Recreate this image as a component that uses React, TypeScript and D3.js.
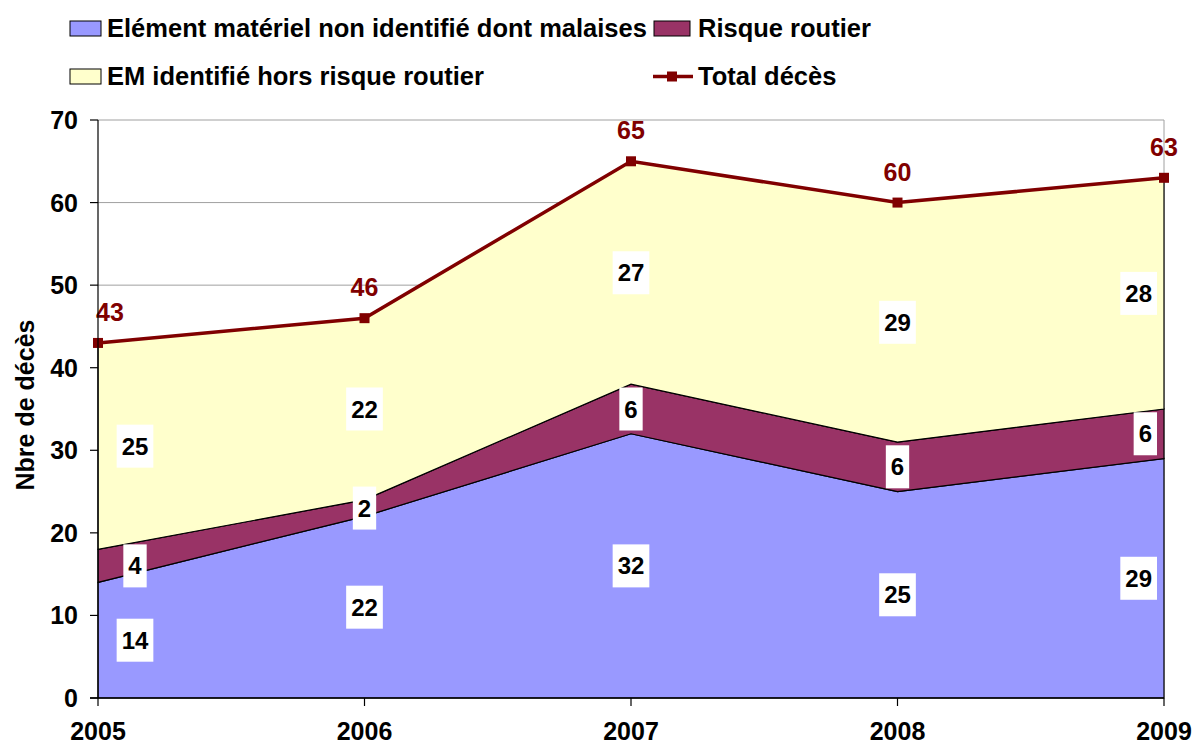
import React from "react";
import * as d3 from "d3";

const years = ["2005", "2006", "2007", "2008", "2009"];
const emNonIdentifie = [14, 22, 32, 25, 29];
const risqueRoutier = [4, 2, 6, 6, 6];
const emIdentifie = [25, 22, 27, 29, 28];
const totalDeces = [43, 46, 65, 60, 63];
const yTicks = [0, 10, 20, 30, 40, 50, 60, 70];

const seriesNames = [
  "Elément matériel non identifié dont malaises",
  "Risque routier",
  "EM identifié hors risque routier",
];
const totalName = "Total décès";
const colors = ["#9999FF", "#993366", "#FFFFCC"];
const lineColor = "#800000";

const W = 1194;
const H = 745;
const left = 98;
const right = 1164;
const top = 120;
const bottom = 698;
const FONT = "'Liberation Sans', Arial, sans-serif";

export default function App() {
  const x = d3.scalePoint<string>().domain(years).range([left, right]);
  const y = d3.scaleLinear().domain([0, 70]).range([bottom, top]);

  const rows = years.map((yr, i) => ({
    year: yr,
    a: emNonIdentifie[i],
    b: risqueRoutier[i],
    c: emIdentifie[i],
  }));
  const keys = ["a", "b", "c"];
  const stacked = d3.stack<any>().keys(keys)(rows);

  const area = d3
    .area<any>()
    .x((d) => x(d.data.year) as number)
    .y0((d) => y(d[0]))
    .y1((d) => y(d[1]));

  const line = d3
    .line<number>()
    .x((_, i) => x(years[i]) as number)
    .y((d) => y(d));

  const labels: { cx: number; cy: number; text: string; align: string }[] = [];
  stacked.forEach((s) => {
    s.forEach((d: any, i: number) => {
      const px = x(years[i]) as number;
      const mid = y((d[0] + d[1]) / 2);
      const v = d[1] - d[0];
      let align = "center";
      let cx = px;
      if (i === 0) cx = px + 37;
      if (i === years.length - 1) {
        align = "right";
        cx = px - 7;
      }
      labels.push({ cx, cy: mid, text: String(v), align });
    });
  });

  const labelFs = 24;
  const charW = 0.556 * labelFs;
  const legFs = 25.5;

  return (
    <svg
      width={W}
      height={H}
      style={{ position: "absolute", left: 0, top: 0, background: "#fff" }}
      fontFamily={FONT}
      fontWeight="bold"
    >
      {/* gridlines */}
      {yTicks
        .filter((t) => t > 0)
        .map((t) => (
          <line key={"g" + t} x1={left} x2={right} y1={y(t)} y2={y(t)} stroke="#a0a0a0" strokeWidth={1} />
        ))}
      <line x1={right} x2={right} y1={top} y2={bottom} stroke="#a0a0a0" strokeWidth={1} />

      {/* areas */}
      {stacked.map((s, i) => (
        <path key={"a" + i} d={area(s as any) as string} fill={colors[i]} stroke="#000" strokeWidth={1.2} />
      ))}

      {/* total line */}
      <path d={line(totalDeces) as string} fill="none" stroke={lineColor} strokeWidth={3.5} />
      {totalDeces.map((v, i) => (
        <rect key={"m" + i} x={(x(years[i]) as number) - 5} y={y(v) - 5} width={10} height={10} fill={lineColor} />
      ))}
      {totalDeces.map((v, i) => (
        <text
          key={"t" + i}
          x={(x(years[i]) as number) + (i === 0 ? 12 : 0)}
          y={y(v) - 22}
          textAnchor="middle"
          fontSize={25}
          fill={lineColor}
        >
          {v}
        </text>
      ))}

      {/* data labels */}
      {labels.map((l, i) => {
        const w = l.text.length * charW + 10;
        const bx = l.align === "right" ? l.cx - w : l.cx - w / 2;
        return (
          <g key={"l" + i}>
            <rect x={bx} y={l.cy - 21.5} width={w} height={43} fill="#fff" />
            <text x={bx + w / 2} y={l.cy + 8.5} textAnchor="middle" fontSize={labelFs} fill="#000">
              {l.text}
            </text>
          </g>
        );
      })}

      {/* axes */}
      <line x1={left} x2={left} y1={top} y2={bottom} stroke="#000" strokeWidth={1.2} />
      <line x1={left - 8} x2={right} y1={bottom} y2={bottom} stroke="#000" strokeWidth={1.5} />
      {yTicks.map((t) => (
        <g key={"yt" + t}>
          <line x1={left - 8} x2={left} y1={y(t)} y2={y(t)} stroke="#000" strokeWidth={1.2} />
          <text x={78} y={y(t) + 9} textAnchor="end" fontSize={25} fill="#000">
            {t}
          </text>
        </g>
      ))}
      {years.map((yr) => (
        <g key={"xt" + yr}>
          <line x1={x(yr) as number} x2={x(yr) as number} y1={bottom} y2={bottom + 8} stroke="#000" strokeWidth={1.2} />
          <text x={x(yr) as number} y={740} textAnchor="middle" fontSize={25} fill="#000">
            {yr}
          </text>
        </g>
      ))}
      <text transform="translate(34,405) rotate(-90)" textAnchor="middle" fontSize={25} fill="#000">
        Nbre de décès
      </text>

      {/* legend */}
      <rect x={70} y={21} width={31} height={15} fill={colors[0]} stroke="#000" strokeWidth={1} />
      <text x={107} y={37} fontSize={legFs} fill="#000">{seriesNames[0]}</text>
      <rect x={654} y={21} width={36} height={15} fill={colors[1]} stroke="#000" strokeWidth={1} />
      <text x={698} y={37} fontSize={legFs} fill="#000">{seriesNames[1]}</text>
      <rect x={70} y={69} width={31} height={15} fill={colors[2]} stroke="#000" strokeWidth={1} />
      <text x={107} y={85} fontSize={legFs} fill="#000">{seriesNames[2]}</text>
      <line x1={653} x2={693} y1={76.5} y2={76.5} stroke={lineColor} strokeWidth={3.5} />
      <rect x={667} y={71.5} width={10} height={10} fill={lineColor} />
      <text x={698} y={85} fontSize={legFs} fill="#000">{totalName}</text>
    </svg>
  );
}
